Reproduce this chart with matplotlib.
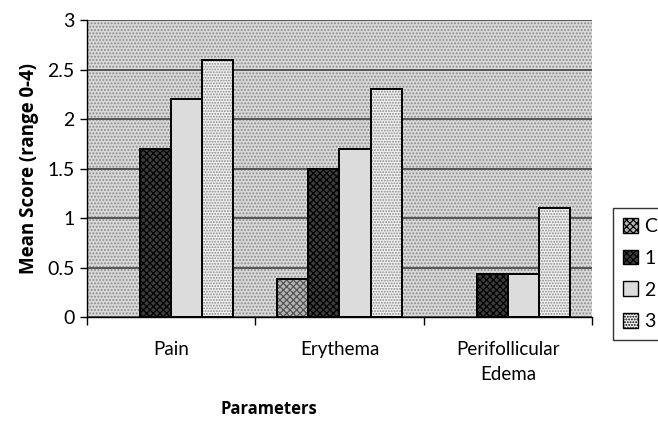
import matplotlib
matplotlib.use("Agg")
import matplotlib.pyplot as plt
import numpy as np
from matplotlib.patches import Patch

plt.rcParams['font.family'] = ['Lato', 'DejaVu Sans']
plt.rcParams['hatch.linewidth'] = 0.9

categories = ['Pain', 'Erythema', 'Perifollicular\nEdema']
groups = ['C', '1', '2', '3']
vals_c = [0.0, 0.38, 0.0]
vals_1 = [1.7, 1.5, 0.43]
vals_2 = [2.2, 1.7, 0.43]
vals_3 = [2.6, 2.3, 1.1]

series = [vals_c, vals_1, vals_2, vals_3]
faces = ['#b4b4b4', '#3c3c3c', '#dcdcdc', '#f0f0f0']
hatches = ['xxxxx', 'xxxxx', None, '......']
hatch_cols = ['#555555', '#000000', None, '#8a8a8a']

fig = plt.figure(figsize=(6.58, 4.21), dpi=100)
ax = fig.add_axes([0.1322, 0.247, 0.7675, 0.7055])

# dotted grey plot area
ax.patch.set_facecolor('#d8d8d8')
ax.patch.set_hatch('.....')
ax.patch.set_edgecolor('#8a8a8a')
ax.patch.set_linewidth(0)

x = np.arange(len(categories))
w = 0.185
for i, vals in enumerate(series):
    pos = x + (i - 1.5) * w
    for p, v in zip(pos, vals):
        if v <= 0:
            continue
        ax.bar(p, v, w, color=faces[i], edgecolor='black', linewidth=1.4, zorder=3)
        if hatches[i]:
            ax.bar(p, v, w, color='none', edgecolor=hatch_cols[i], hatch=hatches[i],
                   linewidth=0, zorder=3.5)
            ax.bar(p, v, w, color='none', edgecolor='black', linewidth=1.4, zorder=4)

ax.set_xlim(-0.5, 2.5)
ax.set_ylim(0, 3)
ax.set_yticks(np.arange(0, 3.01, 0.5))
ax.set_yticklabels(['0', '0.5', '1', '1.5', '2', '2.5', '3'], fontsize=14)
ax.yaxis.grid(True, color='#555555', linewidth=1.4, zorder=1)
ax.set_axisbelow(True)

ax.set_xticks([-0.5, 0.5, 1.5, 2.5])
ax.set_xticklabels([])
ax.set_xticks(x, minor=True)
ax.set_xticklabels(categories, minor=True, fontsize=13.5, linespacing=1.6)
ax.tick_params(axis='x', which='minor', length=0, pad=17)
ax.tick_params(axis='x', which='major', length=6, width=1, direction='out')
ax.tick_params(axis='y', length=5, width=1, direction='out', pad=4)

for s in ['top', 'right']:
    ax.spines[s].set_visible(False)
ax.spines['left'].set_linewidth(1)
ax.spines['bottom'].set_linewidth(1)

ax.set_ylabel('Mean Score (range 0-4)', fontsize=13.5, fontweight='bold',
              family=['Open Sans', 'DejaVu Sans'], labelpad=6)
ax.set_xlabel('Parameters', fontsize=12, fontweight='bold',
              family=['Open Sans', 'DejaVu Sans'])
ax.xaxis.set_label_coords(0.36, -0.28)

handles = []
for i in range(4):
    handles.append(Patch(facecolor=faces[i], edgecolor='black', hatch=hatches[i], linewidth=1))
leg = fig.legend(handles, groups, loc='center left', bbox_to_anchor=(0.9316, 0.349),
                 fontsize=14, frameon=True, fancybox=False, edgecolor='black',
                 handlelength=0.8, handleheight=0.8, handletextpad=0.3,
                 labelspacing=0.75, borderpad=0.5, borderaxespad=0)
leg.get_frame().set_linewidth(1)

fig.savefig('out.png', dpi=100)
